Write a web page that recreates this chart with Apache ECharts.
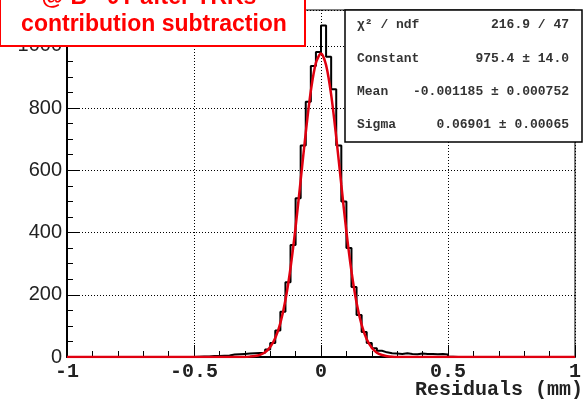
<!DOCTYPE html>
<html>
<head>
<meta charset="utf-8">
<script src="https://cdn.jsdelivr.net/npm/echarts@6/dist/echarts.min.js"></script>
<style>
  html, body { margin: 0; padding: 0; background: #fff; }
  #show { width: 584px; height: 400px; }
</style>
</head>
<body>
<div id="show"></div>
<script>
var myChart = echarts.init(document.getElementById("show"));

// histogram: 100 bins of width 0.02 from -1 to 1 (counts)
var binStart = -1;
var binWidth = 0.02;
var binCounts = [
    0, 0, 0, 0, 0, 0, 0, 0, 0, 0,
    0, 0, 0, 0, 0, 0, 0, 0, 0, 0,
    0, 0, 0, 0, 0, 1, 2, 2, 3, 3,
    4, 5, 8, 9, 10, 11, 12, 13, 14, 24,
    45, 85, 145, 240, 360, 510, 680, 820, 935, 980,
    1065, 965, 860, 680, 500, 350, 225, 135, 80, 45,
    28, 20, 15, 12, 11, 10, 12, 10, 9, 11,
    10, 10, 9, 10, 8, 1, 0, 0, 0, 0,
    0, 0, 0, 0, 0, 0, 0, 0, 0, 0,
    0, 0, 0, 0, 0, 0, 0, 0, 0, 0
];

// gaussian fit curve
var fitX = [-1, -0.3, -0.28, -0.26, -0.24, -0.22, -0.2, -0.18, -0.16, -0.14, -0.12, -0.1,
            -0.08, -0.06, -0.04, -0.02, 0, 0.02, 0.04, 0.06, 0.08, 0.1,
            0.12, 0.14, 0.16, 0.18, 0.2, 0.22, 0.24, 0.26, 0.28, 0.3, 1];
var fitY = [0, 0.4, 1.2, 2.9, 6.9, 15, 32, 61, 109, 183, 286, 417,
            568, 721, 855, 945, 975, 938, 843, 706, 553, 403,
            275, 174, 103, 57, 30, 14, 6.4, 2.7, 1, 0.4, 0];

var statNames = ["\u03c7\u00b2 / ndf", "Constant", "Mean", "Sigma"];
var statValues = ["216.9 / 47", "975.4 \u00b1 14.0", "-0.001185 \u00b1 0.000752", "0.06901 \u00b1 0.00065"];

var titleLines = ["@ B= 0T after TRKs", "contribution subtraction"];

var histData = [];
for (var i = 0; i < binCounts.length; i++) {
    histData.push([binStart + i * binWidth, binCounts[i]]);
}
histData.push([binStart + binCounts.length * binWidth, binCounts[binCounts.length - 1]]);

var fitData = fitX.map(function (x, k) { return [x, fitY[k]]; });

var monoFont = '"Liberation Mono", "DejaVu Sans Mono", monospace';
var sansFont = '"Liberation Sans", Arial, sans-serif';

var graphics = [];
// stats box
graphics.push({
    type: 'rect', z: 100,
    shape: { x: 345, y: 10, width: 237, height: 132 },
    style: { fill: '#fff', stroke: '#000', lineWidth: 1.5 }
});
var rowY = [25, 59, 92, 125];
statNames.forEach(function (n, k) {
    graphics.push({
        type: 'text', z: 101, x: 357, y: rowY[k],
        style: { text: n, font: 'bold 13px ' + monoFont, fill: '#333', verticalAlign: 'middle' }
    });
    graphics.push({
        type: 'text', z: 101, x: 569, y: rowY[k],
        style: { text: statValues[k], font: 'bold 13px ' + monoFont, fill: '#333', align: 'right', verticalAlign: 'middle' }
    });
});
// red title box
graphics.push({
    type: 'rect', z: 100,
    shape: { x: 0, y: -2, width: 305, height: 48 },
    style: { fill: '#fff', stroke: '#ff0000', lineWidth: 2 }
});
graphics.push({
    type: 'text', z: 101, x: 149, y: -2,
    style: { text: titleLines[0], font: 'bold 23px ' + sansFont, fill: '#ff0000', align: 'center', verticalAlign: 'middle' }
});
graphics.push({
    type: 'text', z: 101, x: 154, y: 25,
    style: { text: titleLines[1], font: 'bold 23px ' + sansFont, fill: '#ff0000', align: 'center', verticalAlign: 'middle' }
});
// x axis title
graphics.push({
    type: 'text', z: 101, x: 583, y: 390,
    style: { text: 'Residuals (mm)', font: 'bold 20px ' + monoFont, fill: '#222', align: 'right', verticalAlign: 'middle' }
});

myChart.setOption(option = {
    animation: false,
    grid: {
        left: 67, right: 2, top: 10, bottom: 43,
        show: true, borderColor: '#000', borderWidth: 1, backgroundColor: '#fff'
    },
    xAxis: {
        type: 'value',
        min: -1, max: 1, interval: 0.5,
        axisLine: { onZero: false, lineStyle: { color: '#000', width: 2 } },
        axisTick: { inside: true, length: 12, lineStyle: { color: '#000', width: 1 } },
        minorTick: { show: true, splitNumber: 5, length: 6, lineStyle: { color: '#000', width: 1 } },
        splitLine: { show: true, lineStyle: { color: '#000', type: [1, 2], width: 1 } },
        axisLabel: {
            color: '#222', fontSize: 20, fontWeight: 'bold', fontFamily: monoFont, margin: 5,
            showMinLabel: true, showMaxLabel: true,
            formatter: function (v) { return String(v); }
        }
    },
    yAxis: {
        type: 'value',
        min: 0, max: 1115, interval: 200,
        axisLine: { show: true, onZero: false, lineStyle: { color: '#000', width: 2 } },
        axisTick: { inside: true, length: 12, lineStyle: { color: '#000', width: 1 } },
        minorTick: { show: true, splitNumber: 4, length: 6, lineStyle: { color: '#000', width: 1 } },
        splitLine: { show: true, lineStyle: { color: '#000', type: [1, 2], width: 1 } },
        axisLabel: {
            color: '#222', fontSize: 20, fontFamily: sansFont, margin: 5,
            formatter: function (v) { return v % 200 === 0 ? String(v) : ''; }
        }
    },
    series: [
        {
            type: 'line',
            data: histData,
            step: 'end',
            symbol: 'none',
            lineStyle: { color: '#000', width: 2 },
            z: 2
        },
        {
            type: 'line',
            data: fitData,
            smooth: 0.3,
            symbol: 'none',
            lineStyle: { color: '#e00010', width: 2.5 },
            z: 3
        }
    ],
    graphic: graphics
});
</script>
</body>
</html>
